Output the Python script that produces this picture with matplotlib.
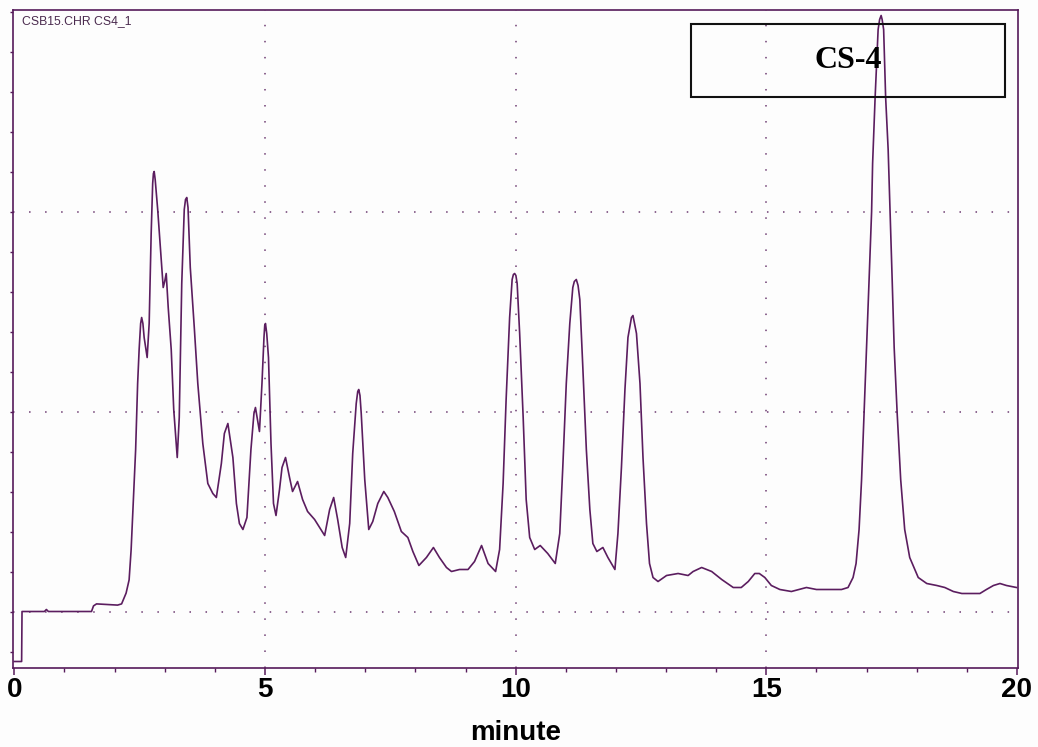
import numpy as np
import matplotlib
matplotlib.use('Agg')
import matplotlib.pyplot as plt
from matplotlib.ticker import MultipleLocator
import matplotlib.patches as patches

# retention time (min) and detector response for run CS4_1
time_min = [
    0.00, 0.146, 0.154, 0.60, 0.64, 0.68, 1.54, 1.58, 1.64, 2.06,
    2.14, 2.23, 2.29, 2.33, 2.36, 2.42, 2.46, 2.49, 2.52, 2.54, 2.565, 2.59,
    2.65, 2.69, 2.73, 2.76, 2.775, 2.79, 2.81, 2.86, 2.93, 2.97, 3.00, 3.03, 3.07,
    3.13, 3.18, 3.25, 3.29, 3.34, 3.39, 3.415, 3.44, 3.465, 3.51, 3.59, 3.66,
    3.76, 3.86, 3.96, 4.03, 4.13, 4.19, 4.26, 4.36, 4.43, 4.49,
    4.56, 4.64, 4.72, 4.78, 4.81, 4.89, 4.94, 4.98, 4.995, 5.01, 5.035, 5.07,
    5.12, 5.17, 5.22, 5.29, 5.34, 5.41, 5.49, 5.55, 5.65, 5.75,
    5.85, 5.99, 6.09, 6.19, 6.29, 6.37, 6.45, 6.54, 6.61, 6.69,
    6.75, 6.82, 6.85, 6.87, 6.895, 6.92, 6.99, 7.07, 7.15, 7.25, 7.37, 7.45,
    7.58, 7.72, 7.85, 7.95, 8.07, 8.22, 8.36, 8.48, 8.62, 8.72,
    8.88, 9.05, 9.18, 9.32, 9.45, 9.60, 9.68, 9.75, 9.81, 9.88,
    9.93, 9.955, 9.98, 10.005, 10.03, 10.08, 10.15, 10.21, 10.28, 10.38, 10.49, 10.64,
    10.79, 10.88, 10.94, 11.01, 11.08, 11.14, 11.17, 11.21, 11.245, 11.28, 11.34, 11.41,
    11.48, 11.54, 11.62, 11.74, 11.84, 11.98, 12.04, 12.11, 12.18, 12.24,
    12.31, 12.34, 12.41, 12.48, 12.54, 12.61, 12.67, 12.74, 12.84, 13.01,
    13.24, 13.44, 13.54, 13.71, 13.91, 14.11, 14.34, 14.50, 14.64, 14.77,
    14.86, 14.97, 15.10, 15.27, 15.50, 15.80, 16.00, 16.23, 16.50, 16.63,
    16.73, 16.79, 16.85, 16.90, 16.95, 17.00, 17.05, 17.10, 17.12, 17.17,
    17.23, 17.26, 17.29, 17.31, 17.34, 17.38, 17.43, 17.47, 17.51, 17.55, 17.61, 17.68,
    17.76, 17.86, 18.03, 18.20, 18.40, 18.56, 18.73, 18.90, 19.26, 19.39,
    19.53, 19.66, 19.79, 19.99,
]
response = [
    -25, -25, 0, 0, 1, 0, 0, 2.8, 3.8, 3.2,
    3.8, 9.2, 15.8, 30.8, 47.4, 80.8, 114, 131, 144, 147, 144, 137,
    127, 144, 189, 214, 219, 220, 216, 201, 176, 162, 165, 169, 152,
    131, 101, 77, 97, 164, 201, 206, 207, 202, 172, 142, 114,
    84, 64, 59, 57, 74, 89, 94, 77, 54, 44,
    41, 47, 81, 99, 102, 90, 114, 137, 143, 144, 139, 127,
    84, 54, 48, 61, 72, 77, 67, 60, 65, 56,
    50, 46, 42, 38, 51, 57, 46, 32, 27, 44,
    79, 104, 110, 111, 108, 99, 66, 41, 45, 54, 60, 57,
    50, 40, 37, 30, 23, 27, 32, 27, 22, 20,
    21, 21, 25, 33, 24, 20, 31, 64, 106, 147,
    166, 168.5, 169, 168, 164, 139, 97, 56, 37, 31, 33, 29,
    24, 39, 72, 114, 144, 162, 165, 166, 163, 156, 122, 81,
    51, 34, 30, 32, 27, 21, 39, 72, 111, 137,
    147, 148, 139, 114, 77, 44, 24, 17, 15, 18,
    19, 18, 20, 22, 20, 16, 12, 12, 15, 19,
    19, 17, 13, 11, 10, 12, 11, 11, 11, 12,
    17, 24, 41, 66, 99, 132, 166, 200, 224, 257,
    291, 296, 298, 296, 291, 257, 231, 199, 166, 132, 99, 66,
    41, 27, 17, 14, 13, 12, 10, 9, 9, 11,
    13, 14, 13, 12,
]

x_major = [0, 5, 10, 15, 20]
y_grid = [0, 100, 200]

LINE = '#5b1d5f'
FRAME = '#561a5a'
GRID = '#6e3c72'

fig = plt.figure(figsize=(10.38, 7.47), dpi=100, facecolor='#fdfdfd')
ax = fig.add_axes([13.3/1038, 79/747, 1004.7/1038, 658/747])
ax.set_facecolor('#fdfdfd')

ax.plot(time_min, response, color=LINE, lw=1.2, solid_joinstyle='round')

ax.set_xlim(-0.02, 20.02)
ax.set_ylim(-28.25, 300.75)

# dotted reference grid
for gx in x_major[1:-1]:
    ax.axvline(gx, color=GRID, lw=1.1, ls=(0, (1, 9.5)), zorder=0)
for gy in y_grid:
    ax.axhline(gy, color=GRID, lw=1.1, ls=(0, (1, 9.5)), zorder=0)

ax.xaxis.set_major_locator(MultipleLocator(5))
ax.xaxis.set_minor_locator(MultipleLocator(1))
ax.yaxis.set_major_locator(MultipleLocator(20))
ax.tick_params(axis='x', which='major', direction='out', length=5.2, width=1.1,
               color=FRAME, pad=1, labelsize=20)
ax.tick_params(axis='x', which='minor', direction='out', length=2.8, width=1.0,
               color=FRAME)
ax.tick_params(axis='y', which='major', direction='out', length=2.2, width=1.0,
               color=FRAME, labelleft=False)
for lab in ax.get_xticklabels():
    lab.set_fontfamily('Liberation Sans')
    lab.set_fontweight('bold')

for sp in ax.spines.values():
    sp.set_color(FRAME)
    sp.set_linewidth(1.2)

ax.text(0.0087, 0.992, 'CSB15.CHR CS4_1', transform=ax.transAxes, ha='left', va='top',
        fontsize=8.8, family='Liberation Sans', color='#4a2a4e')

# sample name box
box = patches.Rectangle((0.6745, 0.8683), 0.3125, 0.1104, transform=ax.transAxes,
                        facecolor='none', edgecolor='#111111', linewidth=1.5, zorder=3)
ax.add_patch(box)
ax.text(0.8307, 0.9235, 'CS-4', transform=ax.transAxes, ha='center', va='center',
        fontsize=23, fontweight='bold', family='Liberation Serif', color='black', zorder=4)

fig.text(515.5/1038, 7/747, 'minute', ha='center', va='baseline', fontsize=20,
         fontweight='bold', family='Liberation Sans')

fig.savefig('out.png', dpi=100, facecolor=fig.get_facecolor())
